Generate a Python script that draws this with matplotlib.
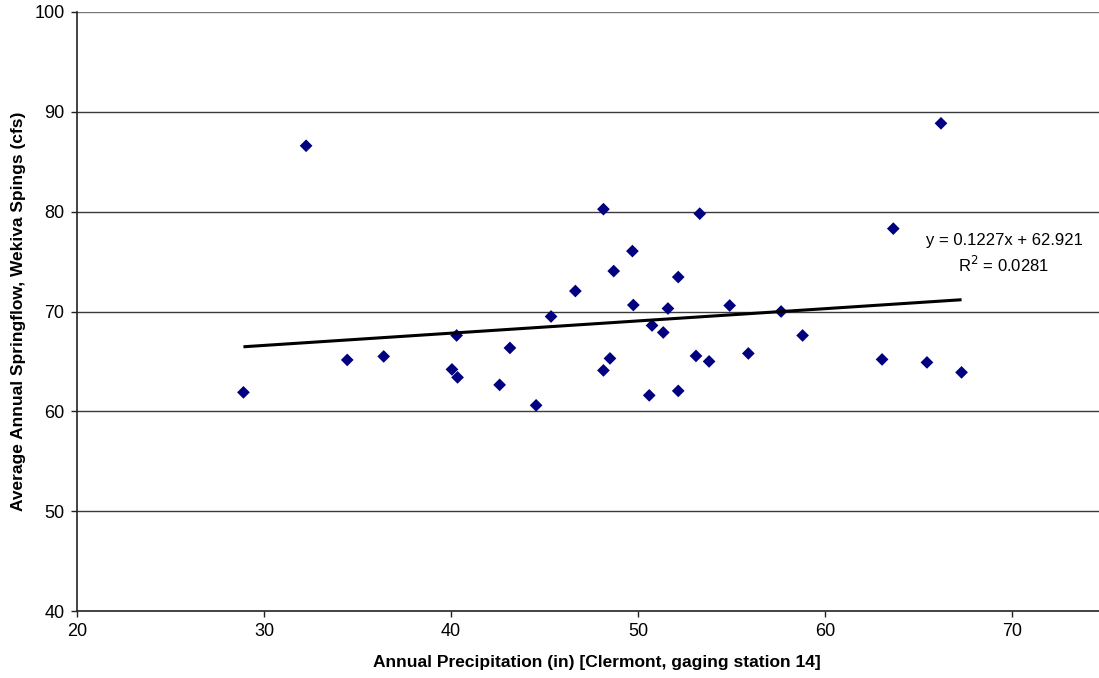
import matplotlib
matplotlib.use("Agg")
import matplotlib.pyplot as plt
import numpy as np

plt.rcParams['font.family'] = ['Liberation Sans', 'DejaVu Sans']

# Data
precip_in = [28.9, 32.25, 34.45, 36.4, 40.05, 40.3, 40.35, 42.6, 43.15, 44.55,
             45.35, 46.65, 48.15, 48.15, 48.5, 48.7, 49.7, 49.75, 50.6, 50.75,
             51.35, 51.6, 52.15, 52.15, 53.1, 53.3, 53.8, 54.9, 55.9, 57.65,
             58.8, 63.05, 63.65, 65.45, 66.2, 67.3]
springflow_cfs = [61.9, 86.6, 65.15, 65.5, 64.2, 67.6, 63.4, 62.65, 66.35, 60.6,
                  69.5, 72.05, 80.25, 64.1, 65.3, 74.05, 76.05, 70.65, 61.6, 68.6,
                  67.9, 70.3, 73.45, 62.05, 65.55, 79.8, 65.0, 70.6, 65.8, 70.0,
                  67.6, 65.2, 78.3, 64.9, 88.85, 63.9]
trend_slope = 0.1227
trend_intercept = 62.921
x_ticks = [20, 30, 40, 50, 60, 70]
y_ticks = [40, 50, 60, 70, 80, 90, 100]

W, H = 1099, 678
fig = plt.figure(figsize=(W / 100, H / 100), dpi=100)
ax = fig.add_axes([77/W, 67/H, 1 - 77/W, (611-12)/H])

ax.set_xlim(20, 74.65)
ax.set_ylim(40, 100)
ax.set_xticks(x_ticks)
ax.set_yticks(y_ticks)

for y in y_ticks[1:]:
    ax.axhline(y, color='#777777' if y == 100 else '#3a3a3a', lw=1.0, zorder=1)

ax.scatter(precip_in, springflow_cfs, marker='D', s=42, color='#000080',
           edgecolors='none', zorder=3)

xs = np.array([min(precip_in), max(precip_in)])
ax.plot(xs, trend_slope * xs + trend_intercept, color='black', lw=2.2,
        solid_capstyle='butt', zorder=4)

fig.text(1004/W, 1 - 240/H, 'y = 0.1227x + 62.921', fontsize=12,
         ha='center', va='center')
fig.text(1004/W, 1 - 265/H, r'R$^{2}$ = 0.0281', fontsize=12,
         ha='center', va='center')

for s in ['top', 'right']:
    ax.spines[s].set_visible(False)
ax.spines['left'].set_color('#222222')
ax.spines['bottom'].set_color('#222222')
ax.spines['left'].set_linewidth(1.2)
ax.spines['bottom'].set_linewidth(1.2)

ax.tick_params(axis='both', direction='out', length=4, width=1,
               color='#222222', labelsize=13, pad=5)

ax.set_xlabel('Annual Precipitation (in) [Clermont, gaging station 14]',
              fontsize=12.5, fontweight='bold')
ax.xaxis.set_label_coords((597 - 77) / (W - 77), -(662 - 611) / (611 - 12),
                          transform=None)
ax.xaxis.label.set_transform(ax.transAxes)
ax.xaxis.label.set_va('center')
ax.set_ylabel('Average Annual Springflow, Wekiva Spings (cfs)',
              fontsize=12.5, fontweight='bold', labelpad=6)

fig.savefig('out.png', dpi=100)
